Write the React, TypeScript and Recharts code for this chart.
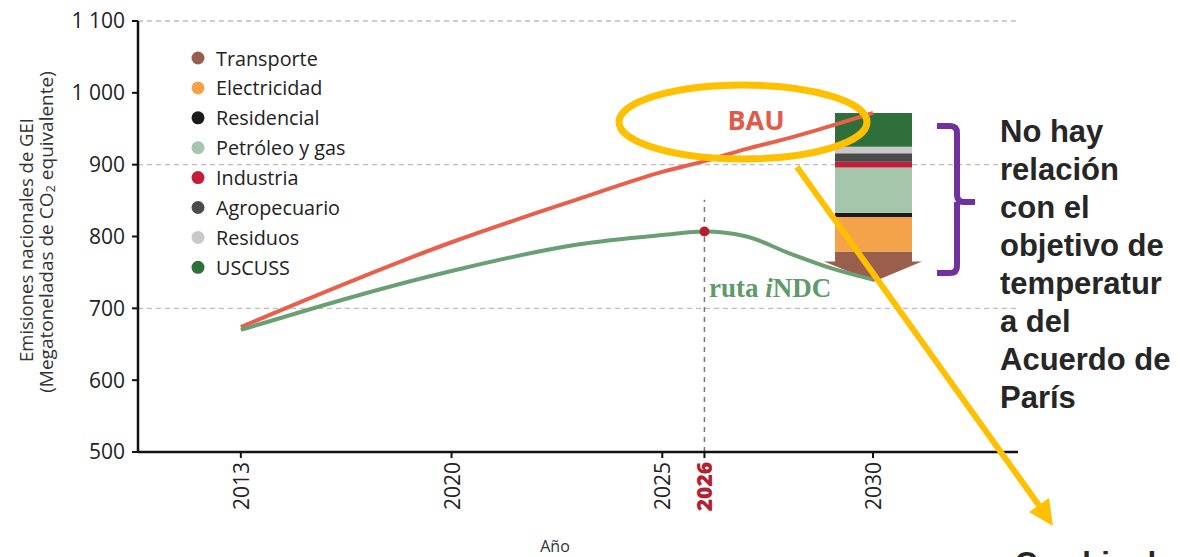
import React from "react";
import { Bar, CartesianGrid, ComposedChart, Line, ReferenceDot, ReferenceLine, XAxis, YAxis } from "recharts";

// emission paths (Mt CO2e)
const years = [2013, 2020, 2023, 2025, 2026, 2027, 2028, 2029, 2030];
const bau = [674, 792, 852, 890, 905, 922, 937, 954, 972];
const indc = [670, 752, 789, 802, 807, 800, 777, 756, 740];

// 2030 reductions by sector, bottom to top
const sectors = ["Transporte", "Electricidad", "Residencial", "Petróleo y gas", "Industria", "Agropecuario", "Residuos", "USCUSS"];
const sectorColors = ["#9a5f4c", "#f4a34b", "#1b1b1b", "#a5c6aa", "#c21f3a", "#4b4b4b", "#c9c9c9", "#2f6f3c"];
const cuts2030 = [42, 48, 6, 63, 8, 12, 9, 47];
const cutsBase = 737;
const cutsYear = 2030;

const yTicks = [500, 600, 700, 800, 900, 1000, 1100];
const xTickYears = [2013, 2020, 2025, 2026, 2030];
const gridValues = [700, 900, 1100];
const peakYear = 2026;
const peakValue = 807;
const peakLineTop = 851;

const rightNote = ["No hay", "relación", "con el", "objetivo de", "temperatur", "a del", "Acuerdo de", "París"];

// the original axis is squeezed before 2020
const toAxis = (y: number) => (y <= 2020 ? ((y - 2013) * 5) / 7 : 5 + (y - 2020));
const fromAxis = (u: number) => Math.round(u <= 5 ? 2013 + (u * 7) / 5 : 2020 + (u - 5));
const X_DOMAIN: [number, number] = [-2.44, 18.44];

const data = years.map((year, i) => {
  const row: Record<string, number> = { year, pos: toAxis(year), bau: bau[i], indc: indc[i] };
  if (year === cutsYear) {
    row.base = cutsBase;
    sectors.forEach((s, j) => (row[s] = cuts2030[j]));
  }
  return row;
});

// the reduction stack only lives in 2030; rows without it stay empty there
const cutsPos = () => toAxis(cutsYear);

const FONT = "'Open Sans', Lato, sans-serif";

const fmtY = (v: number) => (v >= 1000 ? `${Math.floor(v / 1000)} ${String(v % 1000).padStart(3, "0")}` : String(v));

const XTick = (p: any) => {
  const { x, y, payload } = p;
  const yr = fromAxis(payload.value);
  const hot = yr === peakYear;
  return (
    <text
      x={x}
      y={y + 2}
      transform={`rotate(-90 ${x} ${y + 2})`}
      textAnchor="end"
      dominantBaseline="central"
      fontFamily={FONT}
      fontSize={21}
      fontWeight={hot ? 800 : 400}
      fill={hot ? "#b3202f" : "#222"}
    >
      {yr}
    </text>
  );
};

const ArrowShape = (p: any) => {
  const { x, y, width, height, fill } = p;
  if (!height) return null;
  const neck = y + height * 0.33;
  const pts = [
    [x, y],
    [x + width, y],
    [x + width, neck],
    [x + width + 10, neck],
    [x + width / 2, y + height],
    [x - 11, neck],
    [x, neck],
  ];
  return <polygon points={pts.map((q) => q.join(",")).join(" ")} fill={fill} />;
};

export default function App() {
  return (
    <div style={{ position: "relative", width: 1181, height: 557, background: "#fff", overflow: "hidden" }}>
      <style>{`body{margin:0}`}</style>
      <ComposedChart width={1181} height={557} data={data} margin={{ top: 21, right: 163, left: 78, bottom: 45 }}>
        <CartesianGrid vertical={false} horizontalValues={gridValues} stroke="#bdbdbd" strokeDasharray="5 4" strokeWidth={1.3} />
        <XAxis
          type="number"
          dataKey="pos"
          domain={X_DOMAIN}
          allowDataOverflow
          ticks={xTickYears.map(toAxis)}
          tick={<XTick />}
          interval={0}
          height={60}
          tickSize={6}
          axisLine={{ stroke: "#111", strokeWidth: 2.5 }}
          tickLine={{ stroke: "#111", strokeWidth: 2 }}
        />
        <XAxis xAxisId="cuts" type="number" dataKey={cutsPos} domain={X_DOMAIN} allowDataOverflow hide />
        <YAxis
          type="number"
          domain={[500, 1100]}
          allowDataOverflow
          ticks={yTicks}
          interval={0}
          width={60}
          tickSize={6}
          tickMargin={7}
          tickFormatter={fmtY}
          tick={{ fontFamily: FONT, fontSize: 21, fill: "#222" }}
          axisLine={{ stroke: "#111", strokeWidth: 2.5 }}
          tickLine={{ stroke: "#111", strokeWidth: 2 }}
        />
        <ReferenceLine
          segment={[
            { x: toAxis(peakYear), y: 500 },
            { x: toAxis(peakYear), y: peakLineTop },
          ]}
          stroke="#777"
          strokeDasharray="5 5"
          strokeWidth={1.5}
        />
        <Bar xAxisId="cuts" dataKey="base" stackId="cut" fill="transparent" barSize={77} isAnimationActive={false} />
        {sectors.map((s, j) => (
          <Bar
            key={s}
            xAxisId="cuts"
            dataKey={s}
            stackId="cut"
            fill={sectorColors[j]}
            barSize={77}
            shape={j === 0 ? <ArrowShape /> : undefined}
            isAnimationActive={false}
          />
        ))}
        <Line type="monotone" dataKey="bau" stroke="#e8604c" strokeWidth={4} dot={false} isAnimationActive={false} />
        <Line type="monotone" dataKey="indc" stroke="#6a9f74" strokeWidth={4} dot={false} isAnimationActive={false} />
        <ReferenceDot x={toAxis(peakYear)} y={peakValue} r={5} fill="#b3202f" stroke="none" />
      </ComposedChart>

      <svg width={1181} height={557} style={{ position: "absolute", left: 0, top: 0, pointerEvents: "none" }}>
        {/* y axis title */}
        <text transform="translate(25 240) rotate(-90)" textAnchor="middle" dominantBaseline="central" fontFamily={FONT} fontSize={18.5} fill="#333">
          Emisiones nacionales de GEI
        </text>
        <text transform="translate(46 232) rotate(-90)" textAnchor="middle" dominantBaseline="central" fontFamily={FONT} fontSize={19} fill="#333">
          (Megatoneladas de CO<tspan fontSize={13} dy={4}>2</tspan>
          <tspan dy={-4}> equivalente)</tspan>
        </text>
        <text x={555} y={546} textAnchor="middle" dominantBaseline="central" fontFamily={FONT} fontSize={16} fill="#333">
          Año
        </text>

        {/* legend */}
        {sectors.map((s, j) => (
          <g key={s}>
            <circle cx={198} cy={58 + j * 29.9} r={6.5} fill={sectorColors[j]} />
            <text x={216} y={58 + j * 29.9} dominantBaseline="central" fontFamily={FONT} fontSize={19.8} fill="#222">
              {s}
            </text>
          </g>
        ))}

        {/* series labels */}
        <text x={756} y={130} textAnchor="middle" fontFamily={FONT} fontSize={27} fontWeight={700} fill="#e05a4d">
          BAU
        </text>
        <text x={709} y={297} fontFamily="'Liberation Serif', serif" fontSize={27} fontWeight={700} fill="#5f9a6c">
          ruta <tspan fontStyle="italic">i</tspan>NDC
        </text>

        {/* annotations */}
        <ellipse cx={743} cy={122} rx={124} ry={37} fill="none" stroke="#ffc000" strokeWidth={7} />
        <line x1={797} y1={167} x2={1043} y2={511} stroke="#ffc000" strokeWidth={6} />
        <polygon points="1053,526 1029,512 1049,498" fill="#ffc000" />
        <path
          d="M937 126 H950 Q957 126 957 133 V195 Q957 202 964 202 H975 M957 202 V266 Q957 273 950 273 H937"
          fill="none"
          stroke="#7030a0"
          strokeWidth={6}
        />
        {rightNote.map((t, i) => (
          <text key={t} x={1000} y={142 + i * 38} fontFamily="'Liberation Sans', Arial, sans-serif" fontSize={31} fontWeight={700} fill="#262626">
            {t}
          </text>
        ))}
        <text x={1015} y={574} fontFamily="'Liberation Sans', Arial, sans-serif" fontSize={31} fontWeight={700} fill="#262626">
          Cambio de
        </text>
      </svg>
    </div>
  );
}
